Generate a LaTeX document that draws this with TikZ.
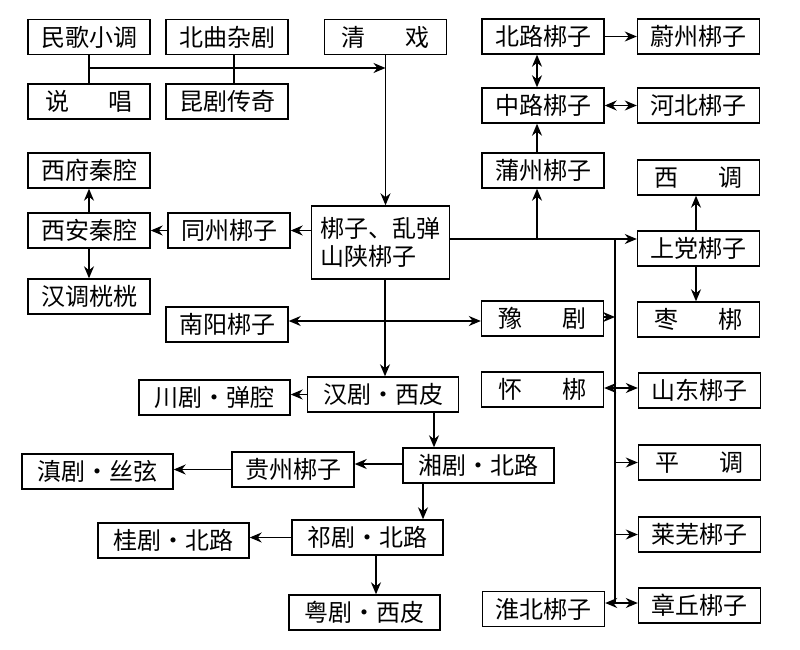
\documentclass[tikz,border=0pt]{standalone}
\usepackage{fontspec}
\newfontfamily\cjk{Noto Sans CJK SC}
\usetikzlibrary{arrows.meta,calc}
\begin{document}
\begin{tikzpicture}[x=1pt,y=-1pt,
  box/.style={draw, line width=1.4pt, minimum height=35pt, minimum width=122pt, inner sep=0pt, font=\cjk\fontsize{24}{28}\selectfont},
  wbox/.style={box, minimum width=151pt},
  ln/.style={line width=1.4pt},
  arr/.style={ln, -{Stealth[length=12pt,width=10pt]}},
  barr/.style={ln, {Stealth[length=12pt,width=10pt]}-{Stealth[length=12pt,width=10pt]}}]
\useasboundingbox (0,0) rectangle (800,650);
\newcommand{\gap}{\hspace{40pt}}
\newcommand{\dt}{•}
% left top
\node[box] (mg) at (89,37) {民歌小调};
\node[box] (bq) at (227,37) {北曲杂剧};
\node[box] (qx) at (385.5,37) {清\gap 戏};
\node[box] (sc) at (89,101.5) {说\gap 唱};
\node[box] (kj) at (227,101.5) {昆剧传奇};
\node[box] (xf) at (89,170.5) {西府秦腔};
\node[box] (xa) at (89,230.5) {西安秦腔};
\node[box] (hd) at (89,296.5) {汉调桄桄};
\node[box] (tz) at (229,230.5) {同州梆子};
\node[box, minimum width=138pt, minimum height=73pt, align=left] (bz) at (380.5,242.5) {梆子、乱弹\\山陕梆子};
\node[box] (ny) at (227,324.5) {南阳梆子};
\node[wbox] (hj) at (383,394.5) {汉剧\dt 西皮};
\node[wbox] (cj) at (214.5,397.5) {川剧\dt 弹腔};
\node[wbox] (xj) at (478.5,465.5) {湘剧\dt 北路};
\node[box] (gz) at (293,469.5) {贵州梆子};
\node[wbox] (dj) at (97.5,471.5) {滇剧\dt 丝弦};
\node[wbox] (qj) at (367.5,537.5) {祁剧\dt 北路};
\node[wbox] (gj) at (173.5,540.5) {桂剧\dt 北路};
\node[wbox] (yue) at (364.5,612.5) {粤剧\dt 西皮};
% right
\node[box] (bl) at (543,36.5) {北路梆子};
\node[box] (wz) at (698.5,36.5) {蔚州梆子};
\node[box] (zl) at (543,105.5) {中路梆子};
\node[box] (hb) at (698.5,105.5) {河北梆子};
\node[box] (pz) at (543,170.5) {蒲州梆子};
\node[box] (xd) at (698.5,177.5) {西\gap 调};
\node[box] (sd) at (698.5,248.5) {上党梆子};
\node[box] (zb) at (698.5,319.5) {枣\gap 梆};
\node[box] (yj) at (542.5,318.5) {豫\gap 剧};
\node[box] (hbz) at (542.5,389.5) {怀\gap 梆};
\node[box] (sdz) at (699.5,390.5) {山东梆子};
\node[box] (pd) at (699.5,462.5) {平\gap 调};
\node[box] (lw) at (699.5,534.5) {莱芜梆子};
\node[box] (zq) at (699.5,605.5) {章丘梆子};
\node[box] (hbei) at (543.5,609) {淮北梆子};
% coordinates
\coordinate (j1) at (89,68);
\coordinate (j2) at (qx.south |- j1);
\coordinate (r1) at (bz.east |- 0,239);
\coordinate (vx) at (615,239);
\coordinate (vb) at (615,603);
\coordinate (pc) at (537,0);
% top connectors
\draw[ln] (mg.south) -- (sc.north);
\draw[ln] ([xshift=7pt]bq.south) -- ([xshift=7pt]kj.north);
\draw[arr] (j1) -- (j2);
\draw[arr] (qx.south) -- (qx.south |- bz.north);
% left
\draw[arr] (bz.west |- tz.east) -- (tz.east);
\draw[arr] (tz.west) -- (xa.east);
\draw[arr] (xa.north) -- (xf.south);
\draw[arr] (xa.south) -- (hd.north);
% main right line
\draw[arr] (r1) -- (sd.west |- r1);
\draw[arr] (pc |- r1) -- (pc |- pz.south);
\draw[arr] (pc |- pz.north) -- (pc |- zl.south);
\draw[barr] (pc |- zl.north) -- (pc |- bl.south);
\draw[arr] (bl.east) -- (wz.west);
\draw[barr] (zl.east) -- (hb.west);
\draw[arr] (sd.north -| 696,0) -- (xd.south -| 696,0);
\draw[arr] (sd.south -| 696,0) -- (zb.north -| 696,0);
\draw[ln] (vx) -- (vb);
\draw[arr] (yj.east |- 0,317) -- (vx |- 0,317);
\draw[barr] ([yshift=3.5pt]ny.east) -- ([yshift=-2.5pt]yj.west);
\draw[barr] (hbz.east |- 0,388) -- (sdz.west |- 0,388);
\draw[arr] (vx |- pd.west) -- (pd.west);
\draw[arr] (vx |- lw.west) -- (lw.west);
\draw[barr] (hbei.east |- vb) -- (zq.west |- vb);
% lower chain
\draw[arr] (bz.south -| 385,0) -- (hj.north -| 385,0);
\draw[arr] (hj.west) -- (cj.east |- hj.west);
\draw[arr] (hj.south -| 434,0) -- (xj.north -| 434,0);
\draw[arr] (xj.west |- 0,464) -- (gz.east |- 0,464);
\draw[arr] (gz.west) -- (dj.east |- gz.west);
\draw[arr] (xj.south -| 423,0) -- (qj.north -| 423,0);
\draw[arr] (qj.west) -- (gj.east |- qj.west);
\draw[arr] (qj.south -| 376,0) -- (yue.north -| 376,0);
\end{tikzpicture}
\end{document}
